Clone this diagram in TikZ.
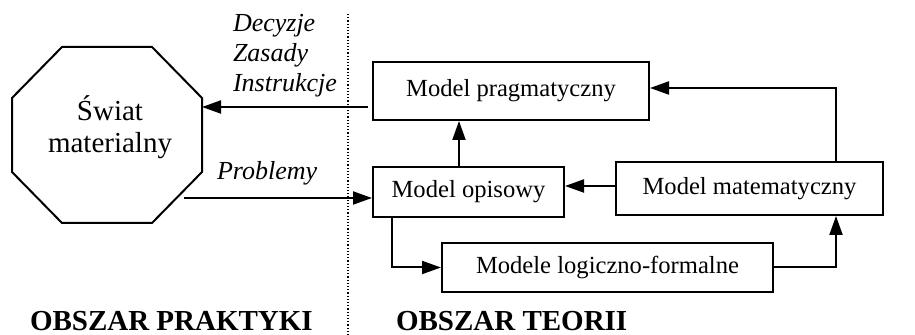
\documentclass[tikz,border=0pt]{standalone}
\usepackage{fontspec}
\setmainfont{Liberation Serif}
\usetikzlibrary{arrows.meta,positioning}

\begin{document}
\begin{tikzpicture}[
  x=0.5pt, y=0.5pt,
  line width=1pt,
  modelbox/.style={draw, inner sep=0pt, font=\fontsize{12.3}{15}\selectfont},
  arr/.style={-{Triangle[length=9.5pt, width=6.5pt]}},
  flowlbl/.style={font=\fontsize{13}{15}\selectfont\itshape, align=left, inner sep=0pt},
  arealbl/.style={font=\fontsize{14.5}{17}\selectfont\bfseries, inner sep=0pt, anchor=base west}
]
  \useasboundingbox (0,0) rectangle (915,335);

  % Practice side: the material world (octagon cut from the node's box)
  \node[minimum width=94pt, minimum height=87pt, inner sep=0pt] (world) at (107,200) {};
  \draw ([xshift=25pt]world.north west) -- ([xshift=-25pt]world.north east)
    -- ([yshift=-25.5pt]world.north east) -- ([yshift=25.5pt]world.south east)
    -- ([xshift=-25pt]world.south east) -- ([xshift=25pt]world.south west)
    -- ([yshift=25.5pt]world.south west) -- ([yshift=-25.5pt]world.north west) -- cycle;
  \node[font=\fontsize{14.5}{16}\selectfont, align=center] (worldlbl) at (110,208) {Świat\\materialny};

  % Divider between the two areas
  \draw[line width=0.6pt, dash pattern=on 0.6pt off 1pt] (348,321) -- (348,0);

  % Theory side: models
  \node[modelbox, minimum width=138pt, minimum height=29pt] (prag) at (511,244) {Model pragmatyczny};
  \node[modelbox, minimum width=95.5pt, minimum height=25pt] (opis) at (468.5,143) {Model opisowy};
  \node[modelbox, minimum width=133.5pt, minimum height=26.5pt] (mat) at (749.5,146.5) {Model matematyczny};
  \node[modelbox, minimum width=165.5pt, minimum height=24.5pt] (logic) at (607.5,67.5) {Modele logiczno-formalne};

  % Flows between practice and theory
  \coordinate (decstart) at (368,228);
  \draw[arr] (decstart) -- (decstart -| world.east);
  \node[flowlbl, anchor=west] (declbl) at (232,279) {Decyzje\\Zasady\\Instrukcje};

  \coordinate (probstart) at (184,137);
  \draw[arr] (probstart) -- (probstart -| opis.west);
  \node[flowlbl, anchor=west] (problbl) at (216,162) {Problemy};

  % Flows between models
  \draw[arr] ([xshift=-4.75pt]opis.north) -- ([xshift=-4.75pt]opis.north |- prag.south);
  \draw[arr] ([yshift=1.25pt]mat.west) -- ([yshift=1.25pt]mat.west -| opis.east);
  \draw[arr] ([xshift=43.25pt]mat.north) |- ([yshift=1.5pt]prag.east);
  \draw[arr] ([xshift=-38.25pt]opis.south) |- (logic.west);
  \draw[arr] (logic.east) -| ([xshift=43.25pt]mat.south);

  % Area titles
  \node[arealbl] (praktyka) at (29,4) {OBSZAR PRAKTYKI};
  \node[arealbl] (teoria) at (395,4) {OBSZAR TEORII};

\end{tikzpicture}
\end{document}
